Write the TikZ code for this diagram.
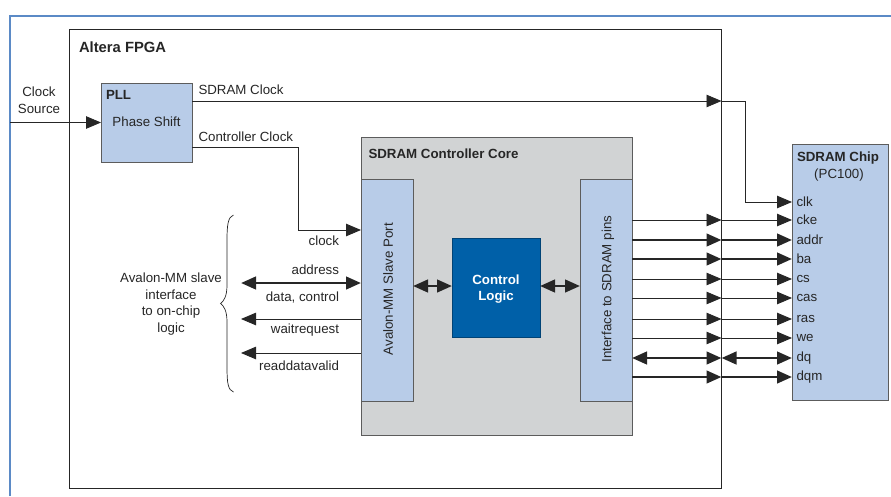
\documentclass[tikz,border=0pt]{standalone}
\usepackage{fontspec}
\setmainfont{Liberation Sans}
\usetikzlibrary{arrows.meta,calc}
\definecolor{lblue}{HTML}{B8CCE8}
\definecolor{dblue}{HTML}{0060A8}
\definecolor{frameblue}{HTML}{5B8AC6}
\definecolor{core}{HTML}{D1D3D4}
\definecolor{ink}{HTML}{262626}
\tikzset{
  x=1pt,y=-1pt,
  every node/.style={font=\fontsize{13.3}{16.6}\selectfont,text=ink,inner sep=0pt,outer sep=0pt},
  lbox/.style={draw=ink!75,line width=.9pt,fill=lblue,anchor=north west},
  thin link/.style={draw=ink,line width=.85pt,-{Triangle[length=15pt,width=12.5pt,fill=ink]}},
  bus/.style={draw=ink,line width=2.8pt,-{Triangle[length=15pt,width=12.5pt,fill=ink]}},
  bibus/.style={draw=ink,line width=2.8pt,{Triangle[length=15pt,width=12.5pt,fill=ink]}-{Triangle[length=15pt,width=12.5pt,fill=ink]}},
  sig/.style={anchor=west},
  rlab/.style={anchor=east},
  bold/.style={font=\fontsize{13.3}{16}\selectfont\bfseries}
}
\newcommand{\boxat}[6]{\node[#1,minimum width=#4pt,minimum height=#5pt] (#2) at (#3) {#6};}
\begin{document}
\begin{tikzpicture}
\useasboundingbox (0,0) rectangle (891,496);
\draw[frameblue,line width=2pt] (10,496) -- (10,15.5) -- (891,15.5);
\boxat{draw=ink,line width=.8pt,anchor=north west}{fpga}{69.5,29}{652}{459}{}
\node[bold,anchor=west,font=\fontsize{14.8}{16}\selectfont\bfseries] (fpgat) at (79,47.5) {Altera FPGA};
\boxat{lbox}{pll}{101,83}{91}{79}{}
\node[bold,anchor=west] (pllt) at (106,95) {PLL};
\node (phase) at (146.5,122) {Phase Shift};
\boxat{draw=ink!75,line width=.9pt,fill=core,anchor=north west}{ctrl}{361,137}{271}{298}{}
\node[bold,anchor=west] (ctrlt) at (368.5,154) {SDRAM Controller Core};
\boxat{lbox}{avl}{361,179}{52}{222}{}
\node[rotate=90] (avlt) at (388,289) {Avalon-MM Slave Port};
\boxat{lbox}{ifc}{580,179}{52}{222}{}
\node[rotate=90] (ifct) at (608,289) {Interface to SDRAM pins};
\boxat{draw=dblue!70!black,line width=.8pt,fill=dblue,anchor=north west}{logic}{452,238}{88}{99}{}
\node[bold,text=white,align=center] (logict) at (496,289) {Control\\Logic};
\boxat{lbox}{chip}{792,144}{96}{256}{}
\node[bold] (chipt) at (838,158.5) {SDRAM Chip};
\node (chipm) at (839,175.5) {(PC100)};
\foreach \n/\y in {clk/202,cke/220,addr/240,ba/259,cs/279,cas/298,ras/319,we/338,dq/358,dqm/377}
  \node[sig] (\n) at (796.5,\y) {\n};
\coordinate (srcs) at (10,122.5);
\node[align=center] (src) at (39,100.5) {Clock\\Source};
\draw[thin link] (srcs) -- (pll.west |- srcs);
\node[anchor=west] (sdck) at (198.5,90) {SDRAM Clock};
\node[anchor=west] (ctck) at (198.5,137) {Controller Clock};
\coordinate (y1) at (0,101);
\coordinate (y2) at (0,147);
\coordinate (jog) at (745,0);
\coordinate (jog2) at (298.5,0);
\draw[thin link] (pll.east |- y1) -- (fpga.east |- y1);
\draw[thin link] (fpga.east |- y1) -- (jog |- y1) -- (jog |- clk) -- (chip.west |- clk);
\coordinate (y3) at (0,230);
\draw[thin link] (pll.east |- y2) -- (jog2 |- y2) -- (jog2 |- y3) -- (avl.west |- y3);
\node[rlab] (clockl) at (339,241) {clock};
\node[rlab] (addrl) at (339,270) {address};
\node[rlab] (datal) at (339,297.5) {data, control};
\node[rlab] (waitl) at (339,330) {waitrequest};
\node[rlab] (rdvl) at (339,366) {readdatavalid};
\coordinate (xl) at (241,0);
\coordinate (y4) at (0,283);
\coordinate (y5) at (0,319);
\coordinate (y6) at (0,353);
\draw[bibus] (xl |- y4) -- (avl.west |- y4);
\draw[thin link] (avl.west |- y5) -- (xl |- y5);
\draw[thin link] (avl.west |- y6) -- (xl |- y6);
\coordinate (y7) at (0,286);
\draw[bibus] (avl.east |- y7) -- (logic.west |- y7);
\draw[bibus] (logic.east |- y7) -- (ifc.west |- y7);
\foreach \n in {cke,cs,cas,ras,we}{
  \draw[thin link] (ifc.east |- \n) -- (fpga.east |- \n);
  \draw[thin link] (fpga.east |- \n) -- (chip.west |- \n);
}
\foreach \n in {addr,ba,dqm}{
  \draw[bus] (ifc.east |- \n) -- (fpga.east |- \n);
  \draw[bus] (fpga.east |- \n) -- (chip.west |- \n);
}
\draw[bibus] (ifc.east |- dq) -- (fpga.east |- dq);
\draw[bibus] (fpga.east |- dq) -- (chip.west |- dq);
\node[align=center] (aval) at (171,304) {Avalon-MM slave\\interface\\to on-chip\\logic};
\draw[ink,line width=.7pt] (233.5,215) .. controls (228,217) and (227,225) .. (227,240) -- (227,285) .. controls (227,296) and (224,301) .. (220.5,303.5) .. controls (224,306) and (227,311) .. (227,322) -- (227,367) .. controls (227,383) and (228,390) .. (233.5,392);
\end{tikzpicture}
\end{document}
